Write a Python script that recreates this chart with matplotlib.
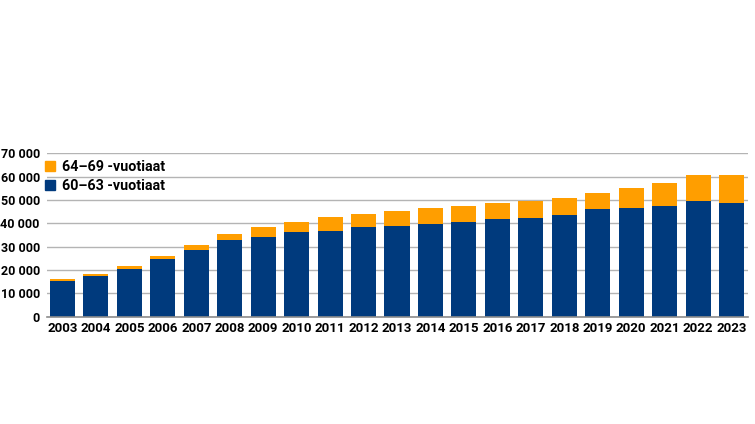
import numpy as np
import matplotlib.pyplot as plt
from matplotlib.patches import Patch
from matplotlib.ticker import FuncFormatter

plt.rcParams['font.family'] = ['Roboto', 'DejaVu Sans']
plt.rcParams['font.weight'] = 'bold'

# data
years = [str(y) for y in range(2003, 2024)]
age_60_63 = [15100, 17300, 20300, 24500, 28500, 32800, 34000, 36100, 36800, 38300,
             38800, 39700, 40400, 41700, 42400, 43700, 46000, 46700, 47300, 49400, 48800]
total = [16100, 18100, 21500, 25800, 30500, 35400, 38300, 40400, 42500, 43800,
         45300, 46700, 47400, 48800, 49400, 50800, 53000, 55100, 57100, 60700, 60700]
age_64_69 = [t - b for t, b in zip(total, age_60_63)]

blue = '#003A7D'
orange = '#FF9E00'

fig = plt.figure(figsize=(7.55, 4.24), dpi=100)
ax = fig.add_axes([46.7 / 755, 1 - 316.5 / 424, (748 - 46.7) / 755, (316.5 - 153.3) / 424])

x = np.arange(len(years))
ax.bar(x, age_60_63, width=0.75, color=blue, zorder=3)
ax.bar(x, age_64_69, width=0.75, bottom=age_60_63, color=orange, zorder=3)

ax.set_ylim(0, 70000)
ax.set_xlim(-0.47, 20.49)
ax.set_yticks(range(0, 70001, 10000))
ax.yaxis.set_major_formatter(FuncFormatter(lambda v, p: f'{int(v):,}'.replace(',', ' ')))
ax.set_xticks(x)
ax.set_xticklabels(years)

ax.grid(axis='y', color='#b4b4b4', lw=1.0, zorder=0)
for s in ['top', 'right', 'left']:
    ax.spines[s].set_visible(False)
ax.spines['bottom'].set_color('#8c8c8c')
ax.spines['bottom'].set_linewidth(1.2)
ax.spines['bottom'].set_zorder(4)
ax.tick_params(axis='both', length=0, colors='black')
ax.tick_params(axis='y', pad=5, labelsize=9)
ax.tick_params(axis='x', pad=4, labelsize=9.5)

handles = [Patch(color=orange, label='64–69 -vuotiaat'),
           Patch(color=blue, label='60–63 -vuotiaat')]
leg = ax.legend(handles=handles, loc='upper left', bbox_to_anchor=(-0.003, 0.958),
                frameon=False, handlelength=0.75, handleheight=0.75, handletextpad=0.5,
                labelspacing=0.35, borderaxespad=0, borderpad=0,
                prop={'size': 10.3, 'weight': 'bold'})

fig.savefig('out.png', dpi=100)
